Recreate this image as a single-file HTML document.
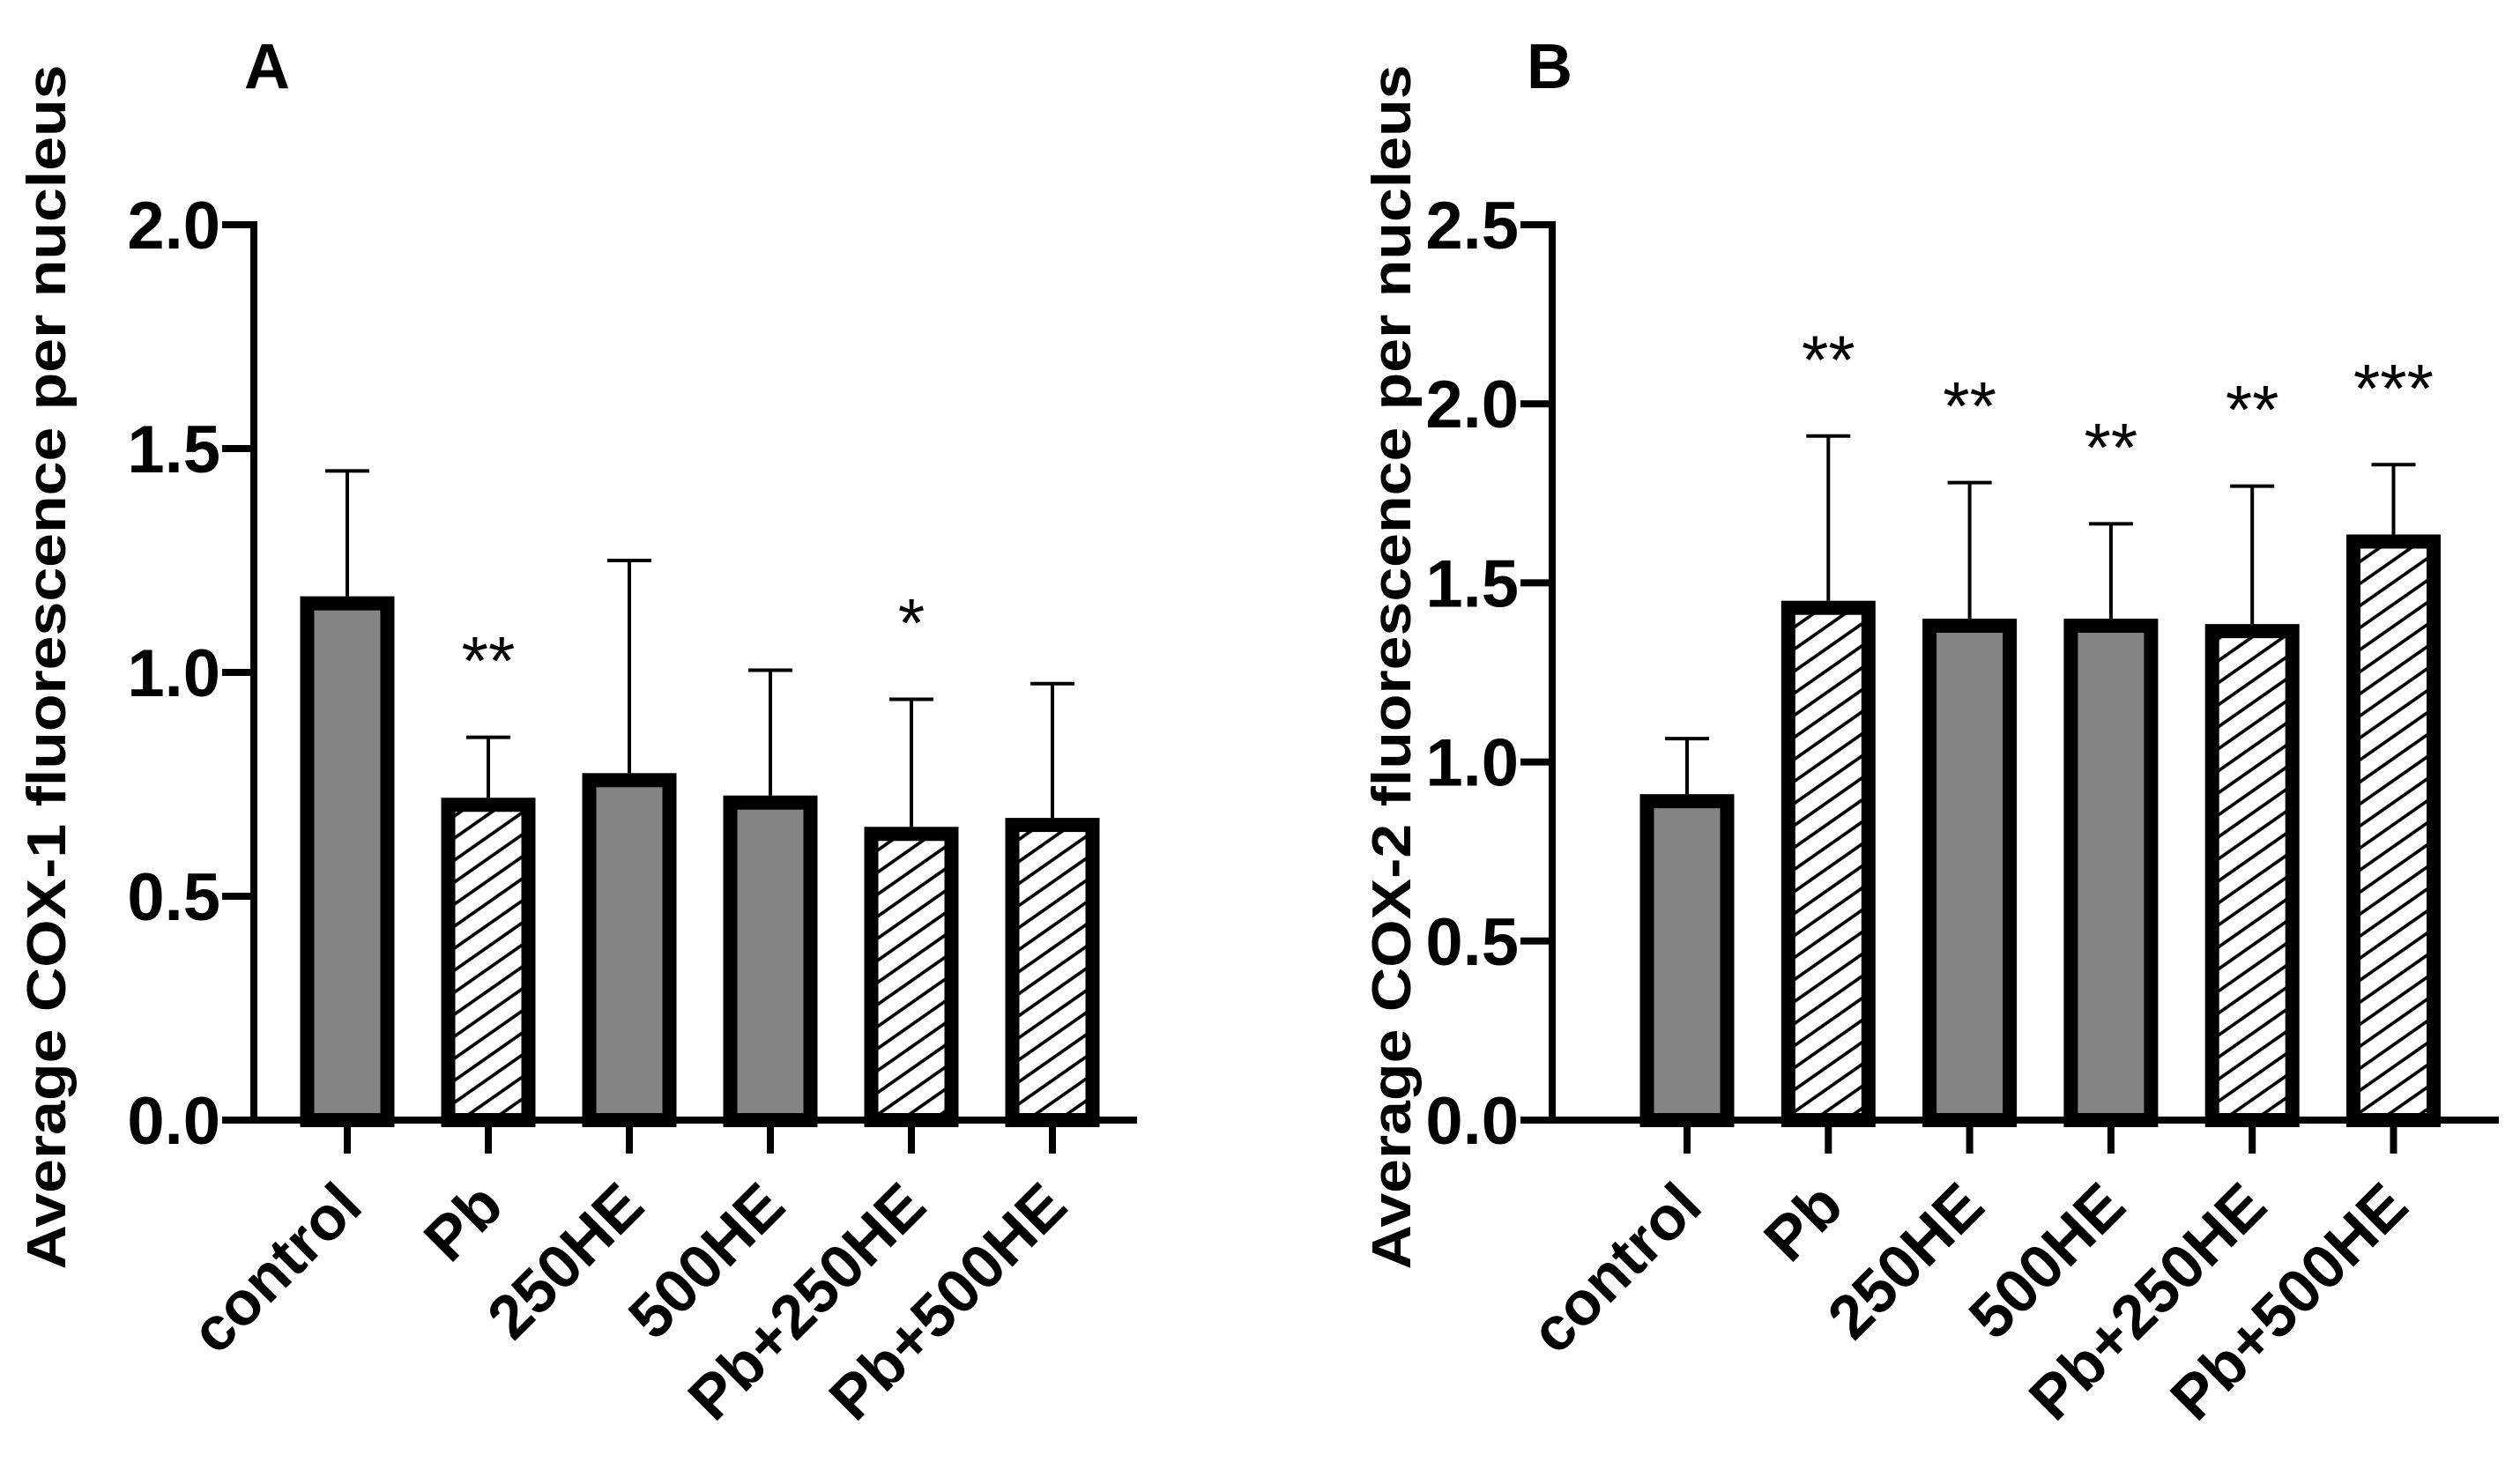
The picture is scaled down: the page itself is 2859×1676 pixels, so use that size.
<!DOCTYPE html>
<html><head><meta charset="utf-8"><style>
html,body{margin:0;padding:0;background:#fff;}
svg{display:block;font-family:"Liberation Sans",Arial,sans-serif;font-weight:bold;}
</style></head><body>
<svg id="chart" width="2859" height="1676" viewBox="0 0 2859 1676">
<defs>
<pattern id="hatch" patternUnits="userSpaceOnUse" width="36" height="25" patternTransform="skewY(-35)">
<rect width="36" height="25" fill="#fff"/>
<line x1="0" y1="12" x2="36" y2="12" stroke="#000" stroke-width="4.5"/>
</pattern>
</defs>
</svg>
<script>
const categories = ["control","Pb","250HE","500HE","Pb+250HE","Pb+500HE"];
const hatched = [false,true,false,false,true,true];
const cox1Means = [1.17,0.72,0.775,0.725,0.655,0.675];
const cox1ErrTop = [1.45,0.855,1.25,1.005,0.94,0.975];
const cox1Stars = ["","**","","","*",""];
const cox1Ticks = [0,0.5,1.0,1.5,2.0];
const cox2Means = [0.91,1.45,1.40,1.40,1.385,1.635];
const cox2ErrTop = [1.065,1.91,1.78,1.665,1.77,1.83];
const cox2Stars = ["","**","**","**","**","***"];
const cox2Ticks = [0,0.5,1.0,1.5,2.0,2.5];

const NS="http://www.w3.org/2000/svg";
const svg=document.getElementById('chart');
function mk(tag,attrs,parent){const e=document.createElementNS(NS,tag);for(const k in attrs)e.setAttribute(k,attrs[k]);(parent||svg).appendChild(e);return e;}

function panel(o){
  const g=mk('g',{});
  
  
  const y0=1271,yTop=255;
  const ymax=o.ticks[o.ticks.length-1];
  const yS=v=>y0-(v/ymax)*(y0-yTop);
  const xS=i=>o.x0+i*o.step;
  o.means.forEach((m,i)=>{
    const cx=xS(i);
    const eb=mk('line',{x1:cx,x2:cx,y1:yS(m),y2:yS(o.err[i]),stroke:'#000','stroke-width':4},g);
    
    
    const cap=mk('line',{x1:cx-25,x2:cx+25,y1:yS(o.err[i]),y2:yS(o.err[i]),stroke:'#000','stroke-width':4},g);
    
    
    const w=107,b=16;
    const r=mk('rect',{x:cx-w/2+b/2,y:yS(m)+b/2,width:w-b,height:y0-yS(m)-b/2,fill:hatched[i]?'url(#hatch)':'#848484',stroke:'#000','stroke-width':b},g);
    
    
    if(o.stars[i]){
      const t=mk('text',{x:cx,y:yS(o.err[i])-60,'text-anchor':'middle','font-size':78,'font-weight':'normal'},g);
      t.textContent=o.stars[i];
      
      
    }
    const tk=mk('line',{x1:cx,x2:cx,y1:y0,y2:1309,stroke:'#000','stroke-width':8},g);
    
    
    const lx=cx+20,ly=1372;
    const lt=mk('text',{x:lx,y:ly,'text-anchor':'end','font-size':70,transform:`rotate(-45 ${lx} ${ly})`},g);
    lt.textContent=categories[i];
    
    
  });
  const ya=mk('line',{x1:o.ax,x2:o.ax,y1:yTop-4,y2:y0+4,stroke:'#000','stroke-width':8},g);
  
  
  const xa=mk('line',{x1:o.ax-4,x2:o.xEnd,y1:y0,y2:y0,stroke:'#000','stroke-width':8},g);
  
  
  o.ticks.forEach(v=>{
    const yy=yS(v);
    const t=mk('line',{x1:o.ax-36,x2:o.ax,y1:yy,y2:yy,stroke:'#000','stroke-width':8},g);
    
    
    const l=mk('text',{x:o.ax-38,y:yy+27,'text-anchor':'end','font-size':76},g);
    l.textContent=v.toFixed(1);
    
    
  });
  const tx=o.titleX,ty=757;
  const tt=mk('text',{x:tx,y:ty,'text-anchor':'middle','font-size':62,textLength:1367,lengthAdjust:'spacingAndGlyphs',transform:`rotate(-90 ${tx} ${ty})`},g);
  tt.textContent=o.title;
  
  
  const pl=mk('text',{x:o.letterX,y:100,'font-size':72},g);
  pl.textContent=o.letter;
  
  
}
panel({name:'panel-a-cox1',means:cox1Means,err:cox1ErrTop,stars:cox1Stars,ticks:cox1Ticks,x0:394,step:160,ax:288,xEnd:1290,titleX:74,title:'Average COX-1 fluorescence per nucleus',letter:'A',letterX:277});
panel({name:'panel-b-cox2',means:cox2Means,err:cox2ErrTop,stars:cox2Stars,ticks:cox2Ticks,x0:1914,step:160.3,ax:1761,xEnd:2835,titleX:1600,title:'Average COX-2 fluorescence per nucleus',letter:'B',letterX:1732});
</script>
</body></html>
